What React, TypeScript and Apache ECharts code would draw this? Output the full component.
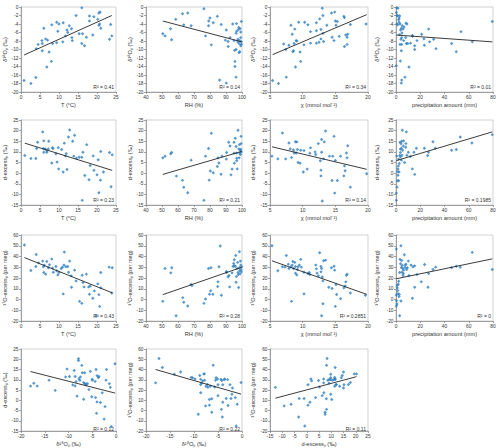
import React, { useEffect, useRef } from "react";
import * as echarts from "echarts";

// ---------- data ----------
const tD18O: number[][] = [[0.8,-17.3],[2.6,-18],[3.9,-16.6],[4,-9.8],[4.5,-8.8],[5.5,-7.9],[5.6,-8.6],[5.6,-10.3],[6,-5],[6.5,-7.5],[6.8,-14.1],[7,-7.8],[7.4,-10.6],[8,-12.8],[8.1,-4.2],[8.3,-8.6],[9.4,-3.6],[9.4,-8.4],[9.7,-5.7],[10,-4],[11,-8.2],[11.1,-3.7],[11.7,-6.8],[12.1,-5.4],[12.3,-6],[12.7,-4.4],[13.3,-5.1],[13.4,-7.2],[13.5,-7.9],[14.5,-2],[15.3,-6.3],[16,-0.2],[16,-8.6],[16.2,-6.3],[16.7,-9.1],[17.2,-7.1],[18,-2.1],[18,-3.3],[18.9,-6.6],[19.2,-2.3],[20.2,-2.9],[20.5,-1.4],[20.5,-4.3],[20.7,-4],[20.8,-1.2],[21,-5],[23.3,-7.6],[23.6,-4.1],[23.9,-6.8]];
const rhD18O: number[][] = [[76.2,-0.4],[66.1,-1.4],[62.8,-1.6],[84.6,-2.2],[80,-2.6],[58.6,-2.9],[79.2,-3.3],[82,-3.7],[99.6,-3.4],[94.2,-4],[87,-4.1],[63.6,-4.2],[96.5,-3.9],[79.1,-4.4],[68.2,-4.4],[98,-4.8],[98.8,-5.1],[97.7,-5.3],[90.2,-5.4],[55.3,-5.1],[96.7,-5.7],[99.2,-5.9],[50.5,-6.3],[51.9,-6.8],[96.3,-6.2],[77.2,-6.8],[92.5,-7.2],[99.2,-7.2],[56,-7.7],[97.5,-7.6],[95,-7.9],[98.6,-7.9],[91.3,-8.1],[89.6,-7.8],[99.6,-8.2],[97.3,-8.2],[98.2,-8.6],[99.6,-8.8],[99.2,-9.1],[80.8,-8.9],[91.4,-9.3],[96.3,-10],[95.4,-10.2],[98.6,-10.5],[98.2,-10.7],[95.6,-12.8],[95.6,-14],[86,-17.2],[96.3,-16.5],[90.2,-17.9]];
const chiD18O: number[][] = [[13,-0.3],[14.4,-1.4],[14.9,-1.2],[13.1,-2],[16.3,-2.2],[16.4,-2.5],[12.6,-2.8],[15,-3.3],[15.3,-3.4],[9.4,-3.6],[10.3,-3.6],[12.1,-3.7],[10.8,-4.2],[8.2,-4.3],[17.3,-4.1],[19.7,-4],[15.1,-4.3],[13.7,-4.3],[8.8,-5.2],[12.8,-5.3],[12.1,-5.6],[11.2,-5.8],[13.1,-6.2],[8.4,-6.4],[16.6,-6.6],[15.6,-6.9],[16.9,-6.4],[16.8,-7.1],[14.5,-7.1],[12.8,-7.5],[13.2,-8.1],[14.8,-7.9],[9,-7.9],[9.1,-8],[7.1,-8.7],[7.9,-9],[11.2,-8.5],[12.1,-8.5],[12.5,-8.3],[8.7,-8.6],[10.2,-8.9],[16.4,-9.3],[16.8,-8.8],[7.4,-10],[8.6,-10.3],[8.5,-10.5],[9.6,-10.6],[9.7,-12.8],[8.9,-14.1],[5.4,-17.3],[6.3,-18],[7.5,-16.5]];
const prD18O: number[][] = [[0.5,-0.2],[1.6,-0.3],[0.3,-1.3],[0.8,-2],[1.4,-2],[3,-2.1],[2.5,-2.6],[2.2,-3],[2.5,-3.6],[0.8,-4],[1.4,-4.2],[3.3,-4],[79.4,-3.4],[5.2,-4.4],[8.2,-3.8],[9,-4],[6.6,-4.7],[4.4,-5],[26.9,-5.2],[5.8,-5.2],[53.6,-5.8],[3.8,-5.4],[4.9,-6.1],[21.2,-6.4],[3,-6.5],[13.5,-6.7],[13.7,-6.9],[4.7,-7.2],[8,-7.2],[31,-7.6],[23,-7.5],[4.1,-7.6],[6.3,-7.9],[17.3,-7.9],[27.7,-8.2],[62.9,-8.2],[45.9,-8.6],[12,-8.5],[8.5,-8.6],[9.6,-8.6],[4.7,-8.8],[3.3,-8.8],[23.4,-9],[15.4,-9.1],[33,-9.8],[15.4,-10],[4.4,-10.3],[49.7,-10.5],[3.6,-12.7],[10.7,-14.1],[0.3,-13.8],[7.4,-16.5],[4.7,-17.2],[4.4,-17.9]];

const tDex: number[][] = [[1,8.3],[2.6,6.9],[3.9,6.9],[4.1,11.6],[4.4,14.5],[5.7,19.4],[5.9,11.6],[6,15.2],[6,9.8],[6.4,11.4],[6.8,9.8],[6.8,10.5],[7.2,11.4],[7.3,15],[8.1,4.8],[8.3,12],[8.4,11.6],[9.2,9.1],[9.5,5.2],[9.8,12],[9.9,2],[10.7,11.1],[11.1,0.5],[11.4,14.1],[11.7,8.1],[11.9,9.2],[12.1,1.7],[12.5,17],[12.8,20.3],[13.6,15],[13.9,8],[14.1,17.8],[14.6,7],[15.3,7.5],[16,7.5],[16.1,-12.8],[16.3,9.8],[16.8,-1.1],[17.3,13.4],[17.9,-3.1],[18.2,3.6],[19,8.1],[19.2,1.3],[20,-0.8],[20.3,6.3],[20.5,-9.2],[20.9,-3.3],[21,10.2],[21.7,0.5],[23.3,9.7],[23.7,-6.4],[24,8.6]];
const rhDex: number[][] = [[50.5,7.2],[51.9,8],[56,9.7],[55.5,9.1],[59,-1.4],[62.8,-3.4],[63.6,-6.7],[66.1,-9.2],[68.2,6.1],[76.2,-12.8],[77.2,8],[79.1,11.6],[79.5,-3.3],[80.8,18.8],[80.2,1],[82,0.2],[84.6,3.1],[85,7.2],[85.6,4.8],[86.9,-0.5],[87.5,8],[90.2,6.6],[90.4,9.7],[91.7,14.5],[92.5,12.8],[93.1,-0.8],[93.8,1.9],[95,14.5],[95,9.4],[95.2,4.7],[95.8,16.4],[96.3,12.5],[96.5,9.4],[96.7,5.8],[96.7,7],[97,2],[97.5,20.2],[98,11.4],[98.4,13.4],[98.6,9.5],[99,10.8],[99,8.8],[99.4,13.9],[99.4,17.3],[99.6,10],[98.2,7.2],[99.2,11.2]];
const chiDex: number[][] = [[5.3,8],[6.2,6.7],[6.9,18.9],[7.4,6.7],[7.9,14.2],[8.1,11.4],[8.3,7.3],[8.6,10.9],[8.7,9.5],[8.9,14.8],[9,9.5],[9.1,14.7],[9.2,11.1],[9.3,5],[9.6,4.7],[9.7,10.8],[10.1,0.5],[10.2,10.6],[10.7,1.9],[11.1,9.4],[11.2,11.9],[11.9,10],[12,8.8],[12.4,13.9],[12.7,5.8],[12.8,1.4],[12.8,-1.3],[12.9,9.8],[12.9,15.8],[13,-13.1],[13.2,6.7],[13.3,14.7],[13.5,19.8],[14.1,8],[14.5,-3.5],[14.6,8],[14.8,17.3],[14.9,-9.4],[15,6],[15.3,-3.5],[15.8,8],[16.4,3.4],[16.5,1.1],[16.3,-1.3],[16.7,9.5],[16.8,7.2],[16.9,12.9],[17.3,-6.6],[19.8,-0.3]];
const prDex: number[][] = [[0.5,8.1],[0.3,-9.4],[0.3,-12.8],[0.8,-6.6],[1.1,-3.6],[1.4,0.8],[1.6,2],[1.9,3.3],[2.2,6.6],[2.2,-3.6],[2.5,0.5],[2.7,4.5],[3,8.3],[3.3,14.5],[3.6,9.7],[3.6,11.3],[3.8,7.7],[4.1,13.8],[4.4,6.1],[4.4,11.7],[4.7,15],[4.9,8.4],[5.2,20.2],[5.5,10.8],[6,12.8],[6.3,15.2],[7.1,5],[8,12.2],[8.2,13.9],[8.5,19.4],[9,8.4],[10.2,9.8],[11.8,7.8],[13.5,2],[14.8,9.8],[15.4,-0.6],[16.8,11.7],[23.4,11.7],[26.1,8.3],[26.9,9.8],[30.5,14.8],[32.4,11.7],[45.9,10.8],[49.7,11.1],[53,17],[62.6,14.2],[79.4,18.1],[1.6,-1]];

const tO17: number[][] = [[0.9,50.7],[2.6,27],[4,41.9],[3.9,30.7],[4.6,34.1],[5.7,35.7],[5.9,30.4],[6.1,32],[6,25.1],[6.5,23.6],[6.8,35.4],[7.2,29.5],[7.5,32.3],[8.1,37.6],[8.3,29.2],[8.5,25.4],[9.2,30.7],[9.4,26.7],[9.7,22.9],[10,25.1],[10.6,28.9],[10.9,30.1],[11.1,5.2],[11.4,44.1],[11.3,32],[11.8,30.4],[12.3,30.7],[12.5,25.4],[12.8,35.7],[13.2,22],[13.3,11.4],[14.1,27.3],[14.5,17.3],[15.4,-1.7],[16,-3.6],[16.1,22.6],[16.3,15.8],[16.6,11.7],[17.2,23.6],[17.8,11.7],[18,4.9],[18.2,12.6],[18.9,1.1],[19.3,8],[19.8,-15.1],[20.2,14.5],[20.5,4.5],[20.7,-6.4],[21,10.8],[21,25.1],[23.2,30.1],[24,29.5],[23.9,6.1]];
const rhO17: number[][] = [[50.5,-1.7],[51.9,28.8],[55.5,24.8],[56.1,29.5],[58.8,-15.1],[63,1.7],[63.6,-2.6],[66.1,-6],[68.2,13.9],[68.7,13],[76.2,-3.6],[77.2,0.5],[79.1,28.8],[79.7,4.9],[80.4,8],[80.6,29.5],[81.8,4.9],[84.8,12],[85,16.4],[85.6,30.4],[86.4,49.7],[87.1,3.9],[90.2,26.1],[90.4,25.1],[91.3,21.1],[91.9,22.3],[92.3,11.7],[93.8,24.8],[94.4,30.7],[94.8,33.5],[95.2,37],[95.2,31.3],[95.8,31],[96.1,41],[96.3,16.1],[96.5,21.4],[96.9,28.8],[97.3,34.5],[97.5,25.1],[97.7,23.2],[97.9,11.1],[98.4,44.4],[98.4,29.5],[98.6,26.7],[98.8,23.8],[99,35.7],[99.2,32],[99.4,27.9],[99.6,25.7],[99.8,30.4]];
const chiO17: number[][] = [[5.3,50],[6.2,26.7],[6.9,30.4],[7.3,30.1],[7.5,41],[7.8,32.9],[7.9,28.8],[8.2,30.4],[8.3,-1.7],[8.4,32],[8.5,35.4],[8.6,28.8],[8.8,34.5],[8.9,24.5],[8.9,30.7],[9.1,22.9],[9.2,27.9],[9.3,30.4],[9.5,32],[9.7,37.3],[9.8,30.1],[10.2,5.2],[10.2,25.4],[10.8,24.2],[11,25.1],[11.1,23.2],[12,32],[12.1,28.5],[12.2,24.5],[12.4,22],[12.6,43.5],[12.8,30.7],[12.8,25.7],[12.9,-15.1],[12.9,28.8],[13,21],[13.1,-3.9],[13.1,17.3],[13.2,36],[13.5,36.6],[14,11.4],[14.4,29.5],[14.5,10.2],[14.8,31],[14.9,27.3],[15,-6.4],[15.1,13.9],[15.2,4.6],[15.8,0.8],[16.3,10.8],[16.5,12.6],[16.6,16.4],[16.7,22.6],[16.8,23.6],[17.3,6.1],[19.6,4]];
const prO17: number[][] = [[0.3,46.9],[0.3,4.2],[0.3,-6],[0.5,-1.1],[0.8,-4.2],[1.1,10.8],[1.1,13],[1.4,8.3],[1.6,5.5],[1.9,14.2],[2.2,17],[2.5,2.7],[2.7,4.6],[3,-15.1],[3,25.1],[3.3,37.3],[3.8,33.2],[4.1,-1.4],[4.1,50],[4.4,29.8],[4.7,36.3],[4.9,25.4],[5.2,31.7],[5.5,28.8],[5.8,22.3],[6,24.2],[6.3,27.3],[6.9,41.6],[7.4,29.8],[7.7,32],[8.2,32.9],[8.8,27.9],[9.3,29.5],[10.2,35.7],[10.7,22.3],[12.4,32],[13.5,1.1],[14,30.4],[15.4,11.4],[15.4,31.3],[17.3,23.2],[20.9,16.4],[23.6,32.6],[26.4,11.4],[26.9,24.2],[30.5,27.9],[32.7,30.1],[45.9,29.5],[49.7,31],[53,30.1],[62.9,43.8],[79.4,27.9]];

const d18ODex: number[][] = [[-17.3,8.3],[-18,6.9],[-16.6,6.9],[-14.1,9.8],[-12.8,4.8],[-10.6,11.4],[-10.3,15.2],[-9.8,11.6],[-8.8,14.5],[-8.6,11.6],[-8.6,7],[-8.4,9.1],[-8.2,2],[-7.9,19.4],[-7.9,20.3],[-7.8,10.5],[-7.6,9.7],[-7.5,11.4],[-7.2,17],[-7.1,13.4],[-6.8,0.5],[-6.8,8.6],[-6.6,8.1],[-6.3,8],[-6.3,7.5],[-6,8.1],[-5.7,5.2],[-5.4,14.1],[-5.1,1.7],[-5,9.8],[-5,10.2],[-4.4,9.2],[-4.3,1.3],[-4.2,15],[-4.1,-6.4],[-4,12],[-4,-0.8],[-3.7,11.1],[-3.6,11.6],[-3.3,-1.1],[-2.9,3.6],[-2.3,-3.1],[-2.1,9.8],[-2,15],[-1.4,8.1],[-1.2,6.3],[-0.2,17.8],[-1,-12.8],[-2.5,-9.2],[-9.1,7.5],[-6.6,13.4]];
const d18OO17: number[][] = [[-17.3,50.7],[-18,27],[-16.6,41.9],[-9.8,30.7],[-8.8,34.1],[-7.9,35.7],[-8.6,30.4],[-10.3,32],[-5,25.1],[-7.5,23.6],[-14.1,35.4],[-7.8,29.5],[-10.6,32.3],[-12.8,37.6],[-4.2,29.2],[-8.6,25.4],[-3.6,30.7],[-8.4,26.7],[-5.7,22.9],[-4,25.1],[-8.2,28.9],[-3.7,30.1],[-6.8,5.2],[-5.4,32],[-6,44.1],[-4.4,30.4],[-5.1,30.7],[-7.2,25.4],[-7.9,35.7],[-2,22],[-6.3,11.4],[-0.2,27.3],[-8.6,17.3],[-6.3,-1.7],[-9.1,-3.6],[-7.1,22.6],[-2.1,15.8],[-3.3,11.7],[-6.6,23.6],[-2.3,11.7],[-2.9,4.9],[-1.4,12.6],[-4.3,1.1],[-4,8],[-1.2,-15.1],[-5,14.5],[-7.6,4.5],[-4.1,-6.4],[-6.8,10.8],[-2.5,25.1],[-3,30.1],[-1,6.1],[-5.5,29.5]];
const dexO17: number[][] = [[8.3,50.7],[6.9,27],[6.9,30.7],[11.6,41.9],[14.5,34.1],[19.4,35.7],[11.6,30.4],[15.2,25.1],[9.8,32],[11.4,23.6],[9.8,35.4],[10.5,29.5],[11.4,32.3],[15,37.6],[4.8,29.2],[12,25.4],[11.6,30.7],[9.1,26.7],[5.2,22.9],[12,25.1],[2,28.9],[11.1,30.1],[0.5,5.2],[14.1,32],[8.1,44.1],[9.2,30.4],[1.7,30.7],[17,25.4],[20.3,35.7],[15,22],[8,11.4],[17.8,27.3],[7,17.3],[7.5,-1.7],[7.5,-3.6],[-12.8,22.6],[9.8,15.8],[-1.1,11.7],[13.4,23.6],[-3.1,11.7],[3.6,12.6],[8.1,1.1],[1.3,8],[-0.8,-15.1],[6.3,14.5],[-9.2,4.5],[-3.3,-6.4],[10.2,10.8],[0.5,25.1],[9.7,30.1],[-6.4,6.1],[8.6,29.5]];

const trendLines: number[][][] = [
  [[0.8,-11.3],[23.9,-2.0]],
  [[50.5,-3.3],[99.8,-8.2]],
  [[5.4,-11.2],[19.8,-1.8]],
  [[0.3,-6.6],[79.4,-8.2]],
  [[1,14.1],[24,1.3]],
  [[50.5,-0.6],[99.8,10.2]],
  [[5.3,12.4],[19.8,1.8]],
  [[0.3,5.9],[79.4,19.4]],
  [[0.9,39],[24,6.2]],
  [[50.5,4.5],[99.8,30]],
  [[5.3,36],[19.8,4.8]],
  [[0.3,19.3],[79.4,37.8]],
  [[-18,14],[-0.2,3.5]],
  [[-18,40],[-0.2,16]],
  [[-12.8,12],[20.3,33]],
];
const r2Labels = ["R² = 0.41","R² = 0.14","R² = 0.34","R² = 0.01","R² = 0.23","R² = 0.21","R² = 0.14","R² = 0.1985","R² = 0.43","R² = 0.28","R² = 0.2851","R² = 0","R² = 0.12","R² = 0.22","R² = 0.11"];

const xNames = ["T (°C)","RH (%)","χ (mmol mol⁻¹)","precipitation amount (mm)","T (°C)","RH (%)","χ (mmol mol⁻¹)","precipitation amount (mm)","T (°C)","RH (%)","χ (mmol mol⁻¹)","precipitation amount (mm)","δ¹⁸Oₚ (‰)","δ¹⁸Oₚ (‰)","d-excessₚ (‰)"];
const yD = "δ¹⁸Oₚ (‰)", yDex = "d-excessₚ (‰)", yO = "¹⁷O-excessₚ (per meg)";
const yNames = [yD,yD,yD,yD,yDex,yDex,yDex,yDex,yO,yO,yO,yO,yDex,yO,yO];
// [min, max, interval]
const xTicks: number[][] = [[0,25,5],[40,100,10],[5,20,5],[0,80,20],[0,25,5],[40,100,10],[5,20,5],[0,80,20],[0,25,5],[40,100,10],[5,20,5],[0,80,20],[-20,0,5],[-20,0,5],[-15,25,5]];
const yTicks: number[][] = [[-20,0,2],[-20,0,2],[-20,0,2],[-20,0,2],[-15,25,5],[-15,25,5],[-15,25,5],[-15,25,5],[-20,60,10],[-20,60,10],[-20,60,10],[-20,60,10],[-15,25,5],[-20,60,10],[-20,60,10]];
const panelData = [tD18O,rhD18O,chiD18O,prD18O,tDex,rhDex,chiDex,prDex,tO17,rhO17,chiO17,prO17,d18ODex,d18OO17,dexO17];

export default function App() {
  const ref = useRef<HTMLDivElement>(null);
  useEffect(() => {
    const chart = echarts.init(ref.current!, null, { renderer: "svg" });
    const colL = [21, 146, 270, 396];
    const colW = [95, 96, 98, 97];
    const rowT = [7, 120, 235, 349];
    const rowH = [85, 85, 86, 85];
    const yGap = [11.5, 11.5, 14.5, 16.5];
    const font = "Liberation Sans, Arial, sans-serif";
    const axisCol = "#7f7f7f";
    const txtCol = "#333333";
    const grids: any[] = [], xAxes: any[] = [], yAxes: any[] = [], series: any[] = [], graphics: any[] = [];
    panelData.forEach((d, i) => {
      const r = Math.floor(i / 4), c = i % 4;
      grids.push({ left: colL[c], top: rowT[r], width: colW[c], height: rowH[r], show: true, borderColor: "#bfbfbf", borderWidth: 0.7, backgroundColor: "transparent" });
      const common = {
        gridIndex: i, type: "value", nameLocation: "middle",
        nameTextStyle: { fontSize: 5.6, color: txtCol, fontFamily: font },
        axisLine: { show: true, onZero: false, lineStyle: { color: axisCol, width: 0.7 } },
        axisTick: { show: true, inside: false, length: 2, lineStyle: { color: axisCol, width: 0.7 } },
        axisLabel: { fontSize: 4.8, color: txtCol, fontFamily: font, margin: 2.5, showMinLabel: true, showMaxLabel: true },
        splitLine: { show: false },
      };
      xAxes.push({ ...common, min: xTicks[i][0], max: xTicks[i][1], interval: xTicks[i][2], name: xNames[i], nameGap: 10 });
      yAxes.push({ ...common, min: yTicks[i][0], max: yTicks[i][1], interval: yTicks[i][2], name: yNames[i], nameGap: yGap[c] });
      series.push({ type: "scatter", xAxisIndex: i, yAxisIndex: i, data: d, symbol: "diamond", symbolSize: 3.4, itemStyle: { color: "#2f7fc1" } });
      series.push({ type: "line", xAxisIndex: i, yAxisIndex: i, data: trendLines[i], symbol: "none", lineStyle: { color: "#262626", width: 0.9 } });
      graphics.push({ type: "text", x: colL[c] + colW[c] - 2, y: rowT[r] + rowH[r] - 3, style: { text: r2Labels[i], fontSize: 5, fill: txtCol, fontFamily: font, textAlign: "right", textVerticalAlign: "bottom" } });
    });
    chart.setOption({
      animation: false,
      backgroundColor: "#ffffff",
      textStyle: { fontFamily: font },
      grid: grids, xAxis: xAxes, yAxis: yAxes, series, graphic: graphics,
    });
    return () => chart.dispose();
  }, []);
  return <div ref={ref} style={{ position: "fixed", left: 0, top: 0, width: 500, height: 448, background: "#fff" }} />;
}
